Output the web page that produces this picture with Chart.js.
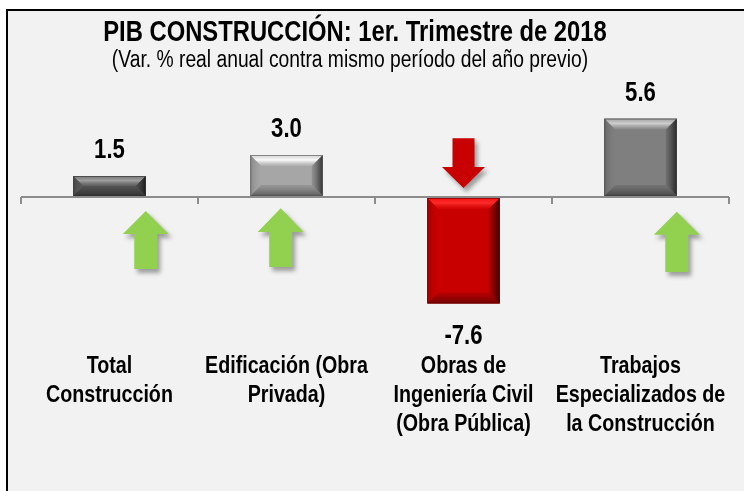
<!DOCTYPE html>
<html>
<head>
<meta charset="utf-8">
<script src="https://cdn.jsdelivr.net/npm/chart.js@4.4.0/dist/chart.umd.min.js"></script>
<style>
html, body { margin: 0; padding: 0; background: #fff; }
#frame { position: absolute; left: 6px; top: 9px; width: 780px; height: 520px; border: 2px solid #000; background: #f2f2f2; }
#myChart { position: absolute; left: 0; top: 0; }
</style>
</head>
<body>
<div id="frame"></div>
<canvas id="myChart" width="744" height="491"></canvas>
<script>
var titulo = "PIB CONSTRUCCIÓN: 1er. Trimestre de 2018";
var subtitulo = "(Var. % real anual contra mismo período del año previo)";
var categorias = [
	["Total", "Construcción"],
	["Edificación (Obra", "Privada)"],
	["Obras de", "Ingeniería Civil", "(Obra Pública)"],
	["Trabajos", "Especializados de", "la Construcción"]
];
var variacion = [1.5, 3.0, -7.6, 5.6];
var colores = ["#595959", "#a6a6a6", "#c80000", "#7f7f7f"];
var flechas = ["up", "up", "down", "up"];

var fam = "'Liberation Sans', Arial, sans-serif";
var ANGOSTO = 0.82; // no narrow face installed: squeeze Liberation Sans

function tono(hex, f, add, a) {
	var n = parseInt(hex.slice(1), 16);
	var r = (n >> 16) & 255, g = (n >> 8) & 255, b = n & 255;
	r = Math.max(0, Math.min(255, Math.round(r * f + add)));
	g = Math.max(0, Math.min(255, Math.round(g * f + add)));
	b = Math.max(0, Math.min(255, Math.round(b * f + add)));
	return "rgba(" + r + "," + g + "," + b + "," + a + ")";
}

function poly(ctx, pts) {
	ctx.beginPath();
	ctx.moveTo(pts[0][0], pts[0][1]);
	for (var i = 1; i < pts.length; i++) ctx.lineTo(pts[i][0], pts[i][1]);
	ctx.closePath();
}

function texto(ctx, s, x, y, font) {
	ctx.save();
	ctx.translate(x, y);
	ctx.scale(ANGOSTO, 1);
	ctx.font = font;
	ctx.fillStyle = "#000";
	ctx.textAlign = "center";
	ctx.textBaseline = "middle";
	ctx.fillText(s, 0, 0);
	ctx.restore();
}

// title, category labels, bevel look on the bars, value labels, arrows
var adornos = {
	id: "adornos",
	afterDraw: function(chart) {
		var ctx = chart.ctx, x = chart.scales.x;
		texto(ctx, titulo, 355, 33, "bold 29px " + fam);
		texto(ctx, subtitulo, 350, 61, "23.5px " + fam);
		var y1 = chart.chartArea.bottom + 3 + 15.5;
		categorias.forEach(function(lines, i) {
			var cx = x.getPixelForValue(i);
			lines.forEach(function(s, k) {
				texto(ctx, s, cx, y1 + k * 28.8, "bold 24px " + fam);
			});
		});
	},
	beforeDatasetsDraw: function(chart) {
		// short tick marks on the zero line between categories
		var ctx = chart.ctx, x = chart.scales.x, y = chart.scales.y;
		var y0 = y.getPixelForValue(0);
		var xs = [chart.chartArea.left, chart.chartArea.right];
		for (var i = 1; i < categorias.length; i++) {
			xs.push((x.getPixelForValue(i - 1) + x.getPixelForValue(i)) / 2);
		}
		ctx.save();
		ctx.strokeStyle = "#8c8c8c";
		ctx.lineWidth = 2;
		xs.forEach(function(px) {
			ctx.beginPath();
			ctx.moveTo(Math.round(px), y0);
			ctx.lineTo(Math.round(px), y0 + 7);
			ctx.stroke();
		});
		ctx.restore();
	},
	afterDatasetsDraw: function(chart) {
		var ctx = chart.ctx, y = chart.scales.y;
		var meta = chart.getDatasetMeta(0);
		ctx.save();
		meta.data.forEach(function(bar, i) {
			var l = bar.x - bar.width / 2, r = bar.x + bar.width / 2;
			var t = Math.min(bar.y, bar.base), bo = Math.max(bar.y, bar.base);
			var b = Math.min(11, (bo - t) / 2, bar.width / 2);
			var c = colores[i], g;
			// top
			g = ctx.createLinearGradient(0, t, 0, t + b);
			g.addColorStop(0, tono(c, 1.15, 20, 0.9));
			g.addColorStop(0.45, tono(c, 1.3, 45, 0.95));
			g.addColorStop(1, tono(c, 1.05, 5, 0.6));
			ctx.fillStyle = g;
			poly(ctx, [[l, t], [r, t], [r - b, t + b], [l + b, t + b]]);
			ctx.fill();
			// left
			g = ctx.createLinearGradient(l, 0, l + b, 0);
			g.addColorStop(0, tono(c, 0.8, 0, 0.9));
			g.addColorStop(1, tono(c, 1.0, 0, 0.3));
			ctx.fillStyle = g;
			poly(ctx, [[l, t], [l + b, t + b], [l + b, bo - b], [l, bo]]);
			ctx.fill();
			// right
			g = ctx.createLinearGradient(r - b, 0, r, 0);
			g.addColorStop(0, tono(c, 0.8, 0, 0.6));
			g.addColorStop(1, tono(c, 0.3, 0, 1));
			ctx.fillStyle = g;
			poly(ctx, [[r, t], [r - b, t + b], [r - b, bo - b], [r, bo]]);
			ctx.fill();
			// bottom
			g = ctx.createLinearGradient(0, bo - b, 0, bo);
			g.addColorStop(0, tono(c, 0.85, 0, 0.6));
			g.addColorStop(1, tono(c, 0.55, 0, 1));
			ctx.fillStyle = g;
			poly(ctx, [[l, bo], [r, bo], [r - b, bo - b], [l + b, bo - b]]);
			ctx.fill();
			ctx.strokeStyle = tono(c, 0.5, 0, 0.6);
			ctx.lineWidth = 1;
			ctx.strokeRect(l + 0.5, t + 0.5, bar.width - 1, bo - t - 1);

			// value label
			var v = variacion[i];
			texto(ctx, v.toFixed(1), bar.x, v >= 0 ? bar.y - 25 : bar.y + 33, "bold 27px " + fam);
		});

		// arrows (offset in bar widths, heights in axis units)
		var spec = [
			{ dx: 0.5, tip: -1.0, base: -2.65, end: -5.15, hw: 46, sw: 23 },
			{ dx: -0.08, tip: -0.8, base: -2.5, end: -5.0, hw: 46, sw: 23 },
			{ dx: 0, tip: 0.64, base: 2.15, end: 4.2, hw: 43, sw: 22 },
			{ dx: 0.5, tip: -1.05, base: -2.7, end: -5.35, hw: 46, sw: 23 }
		];
		meta.data.forEach(function(bar, i) {
			var s = spec[i];
			var cx = bar.x + s.dx * bar.width;
			var tp = y.getPixelForValue(s.tip), bs = y.getPixelForValue(s.base), en = y.getPixelForValue(s.end);
			ctx.save();
			ctx.shadowColor = "rgba(0,0,0,0.35)";
			ctx.shadowBlur = 4;
			ctx.shadowOffsetX = 3;
			ctx.shadowOffsetY = 4;
			ctx.fillStyle = flechas[i] === "up" ? "#92d050" : "#c80000";
			poly(ctx, [[cx, tp], [cx + s.hw / 2, bs], [cx + s.sw / 2, bs], [cx + s.sw / 2, en],
				[cx - s.sw / 2, en], [cx - s.sw / 2, bs], [cx - s.hw / 2, bs]]);
			ctx.fill();
			ctx.restore();
		});
		ctx.restore();
	}
};

var ctx = document.getElementById("myChart").getContext("2d");
var myChart = new Chart(ctx, {
	type: "bar",
	data: {
		labels: categorias,
		datasets: [{
			data: variacion,
			backgroundColor: colores,
			borderWidth: 0,
			barPercentage: 0.41,
			categoryPercentage: 1.0
		}]
	},
	options: {
		responsive: false,
		animation: false,
		layout: { padding: { left: 21, right: 15, top: 80, bottom: 0 } },
		plugins: {
			legend: { display: false },
			tooltip: { enabled: false },
			title: { display: false }
		},
		scales: {
			x: {
				grid: { display: false },
				border: { display: false },
				ticks: { display: false },
				afterFit: function(s) { s.height = 143; }
			},
			y: {
				min: -10.786,
				max: 8.357,
				border: { display: false },
				ticks: { display: false },
				grid: {
					drawTicks: false,
					lineWidth: 2,
					color: function(c) { return c.tick && c.tick.value === 0 ? "#8c8c8c" : "rgba(0,0,0,0)"; }
				},
				afterBuildTicks: function(s) { s.ticks = [{ value: 0 }]; },
				afterFit: function(s) { s.width = 0; }
			}
		}
	},
	plugins: [adornos]
});
</script>
</body>
</html>
